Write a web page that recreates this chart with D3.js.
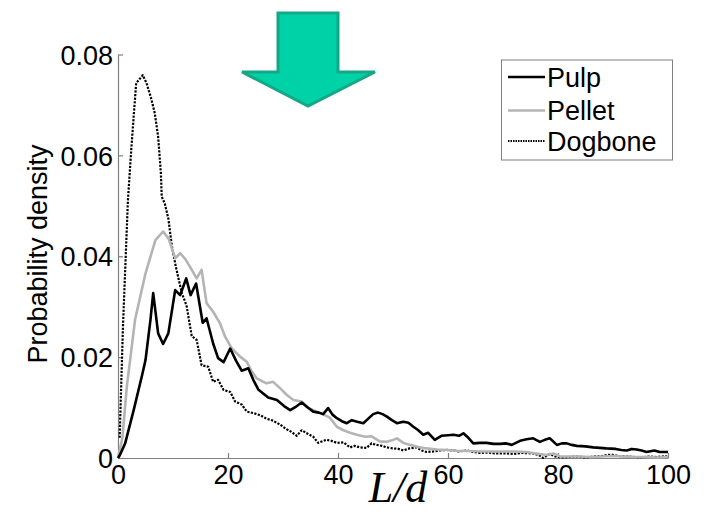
<!DOCTYPE html>
<html>
<head>
<meta charset="utf-8">
<script src="https://cdn.jsdelivr.net/npm/d3@7"></script>
<style>
  html, body { margin: 0; padding: 0; background: #ffffff; }
  svg { display: block; }
</style>
</head>
<body>
<svg id="chart" width="719" height="517"></svg>
<script>
// ---------- data ----------
const seriesNames = ["Pulp", "Pellet", "Dogbone"];
const xTicks = [0, 20, 40, 60, 80, 100];
const yTicks = [0, 0.02, 0.04, 0.06, 0.08];
const yTickLabels = ["0", "0.02", "0.04", "0.06", "0.08"];

const pulpL = [0,0.3,1.3,2.85,4.4,5,5.9,6.4,7.3,8.2,9.15,10.4,11.3,12.4,13.2,14.2,15.4,16.1,17.3,18.2,19.2,20.4,21.5,22.5,23.7,24.6,25.5,27.3,28.9,30.2,31.3,32.4,33.4,34.5,35.5,36.5,37.3,38.2,39,39.8,40.7,41.6,42.5,43.5,44.6,45.5,46.4,47.3,48.1,48.9,49.8,50.7,51.9,52.8,53.7,54.6,55.5,56.4,57.6,58.8,60,61,62,62.8,63.7,64.6,65.8,67,68.3,69.5,70.5,71.6,73.1,74.3,75.5,76.7,77.6,78.5,79.8,80.7,81.6,82.5,83.4,85,86.4,87.6,88.8,90.5,91.5,92.5,93.4,94.3,95.2,96.1,97.5,98.5,100];
const pulpV = [0,0.0005,0.0029,0.0095,0.0165,0.0194,0.0274,0.0327,0.0247,0.0226,0.0247,0.0333,0.0323,0.0356,0.0323,0.0346,0.0268,0.0277,0.0227,0.0198,0.019,0.0217,0.0192,0.0173,0.0178,0.0155,0.0136,0.012,0.0115,0.0103,0.0095,0.0102,0.011,0.01,0.0092,0.009,0.0087,0.0099,0.0086,0.0079,0.0073,0.0069,0.0075,0.0072,0.0069,0.0078,0.0087,0.009,0.0087,0.0082,0.0075,0.0069,0.0072,0.007,0.0062,0.0055,0.0046,0.005,0.0036,0.0044,0.0045,0.0046,0.0044,0.0049,0.004,0.0029,0.003,0.003,0.0028,0.0028,0.0029,0.0026,0.0034,0.0037,0.0039,0.0032,0.0036,0.0039,0.0026,0.0029,0.0029,0.0026,0.0024,0.0023,0.0021,0.002,0.0019,0.0018,0.0016,0.0015,0.0018,0.0017,0.0015,0.0012,0.0015,0.0012,0.0012];

const pelletL = [0,0.8,1.6,3.1,5,6.8,8.2,9.2,10.4,11.3,12.2,13.1,14.3,15.2,16.1,17.3,18.5,19.5,20.7,22.2,23.4,24.3,25.2,27,28.2,29.5,30.7,31.9,33.4,34.5,35.5,37.6,38.5,39.8,41,42.2,43.4,44.9,46.1,47.6,48.9,49.8,50.7,51.9,53.1,54.6,56.1,58,59.8,62,64,66,68,70,72,74.3,76,77.9,79.2,80.4,82,84,86,88,90,92,94,96,98,100];
const pelletV = [0,0.004,0.0141,0.0274,0.0366,0.0432,0.0449,0.0435,0.0396,0.0406,0.0395,0.0379,0.0356,0.0373,0.0307,0.029,0.0268,0.024,0.0217,0.0201,0.0191,0.0172,0.0158,0.0148,0.0151,0.0138,0.0125,0.0115,0.0112,0.01,0.0095,0.0085,0.008,0.0062,0.0055,0.005,0.0046,0.0042,0.0043,0.0033,0.0032,0.0035,0.0039,0.003,0.0026,0.0022,0.0019,0.0017,0.0016,0.0014,0.0014,0.0013,0.0013,0.0013,0.0013,0.0012,0.0009,0.0006,0.0009,0.0003,0.0003,0.0003,0.0002,0.0003,0.0004,0.0003,0.0002,0.0002,0.0001,0.0002];

const dogboneL = [0.3,0.9,1.8,2.4,3.3,4.5,5.2,6.1,6.7,7.3,7.8,7.95,8.5,9.15,9.8,10.5,11.6,12.2,12.5,13.4,14.3,15.2,16.4,17.3,18.2,19.2,20.4,21.3,22.5,23.4,24.6,25.8,27,28.2,29.5,30.5,31.5,32.5,33.4,34.5,35.5,36.4,37.9,38.8,39.8,41,42.2,43,44,45.2,46.1,47,48,48.9,50,51,51.9,53,54.3,55.2,56.1,57.5,58.5,59.8,61,62,63.4,64.5,65.8,67,68.5,70.7,72,73.5,75.5,76.5,77.3,78.5,79.5,80.4,82,83.5,85.2,86.5,88,89,90,91,92.5,94,94.9,96.5,98,99.8];
const dogboneV = [0.004,0.026,0.051,0.061,0.0743,0.0759,0.0743,0.071,0.0683,0.0637,0.0564,0.0518,0.0505,0.0475,0.042,0.038,0.0327,0.031,0.03,0.0242,0.0234,0.0184,0.0181,0.0151,0.0155,0.0135,0.0131,0.0112,0.0106,0.0092,0.0089,0.0085,0.0078,0.0074,0.0066,0.0058,0.0052,0.0044,0.0055,0.0048,0.0042,0.003,0.0036,0.0034,0.003,0.0031,0.0021,0.0024,0.0021,0.002,0.0029,0.0026,0.0024,0.0021,0.0019,0.0018,0.0015,0.0019,0.0021,0.0015,0.0012,0.0013,0.0015,0.0016,0.0015,0.0013,0.0015,0.0012,0.001,0.0011,0.0009,0.0009,0.0008,0.001,0.0009,0.0006,0.0,0.0008,0.0003,0.0001,0.0002,0.0003,0.0001,0.0003,0.0004,0.0006,0.0006,0.0004,0.0003,0.0002,0.0001,0.0003,0.0002,0.0004];

// ---------- layout ----------
const svg = d3.select("#chart");
const x = d3.scaleLinear().domain([0, 100]).range([118, 668]);
const y = d3.scaleLinear().domain([0, 0.08]).range([458, 54.5]);
const axisColor = "#7f7f7f";
const font = "'Liberation Sans', Arial, sans-serif";
const fs = "27px";

// arrow (decoration)
const ax = 308;
svg.append("polygon")
  .attr("points", [
    [ax - 30, 13], [ax + 30, 13], [ax + 30, 72], [ax + 67, 72],
    [ax, 106], [ax - 66, 72], [ax - 30, 72]
  ].map(p => p.join(",")).join(" "))
  .attr("fill", "#00d2a8")
  .attr("stroke", "#14a886")
  .attr("stroke-width", 3)
  .attr("stroke-linejoin", "miter");

// axes
const xAxis = d3.axisBottom(x).tickValues(xTicks).tickSizeInner(-5).tickSizeOuter(0).tickPadding(10)
  .tickFormat(d3.format("d"));
const yAxis = d3.axisLeft(y).tickValues(yTicks).tickSizeInner(-5).tickSizeOuter(0).tickPadding(5)
  .tickFormat((d, i) => yTickLabels[i]);

const gx = svg.append("g").attr("transform", "translate(0,458)").call(xAxis);
const gy = svg.append("g").attr("transform", "translate(118,0)").call(yAxis);
[gx, gy].forEach(g => {
  g.select(".domain").attr("stroke", axisColor).attr("stroke-width", 1.2);
  g.selectAll(".tick line").attr("stroke", axisColor).attr("stroke-width", 1.2);
  g.selectAll(".tick text").attr("fill", "#000").style("font-family", font).style("font-size", fs);
});
gy.selectAll(".tick text").attr("dy", "0.36em");
gx.selectAll(".tick text").attr("dy", "0.6em");

// lines
const line = d3.line().x(d => x(d[0])).y(d => y(d[1]));
const zip = (a, b) => a.map((v, i) => [v, b[i]]);

const styles = {
  Pulp:    { stroke: "#000000", width: 2.6, dash: null },
  Pellet:  { stroke: "#b4b4b4", width: 2.6, dash: null },
  Dogbone: { stroke: "#000000", width: 2.2, dash: "2.2,1.4" }
};
const seriesData = {
  Pulp: zip(pulpL, pulpV),
  Pellet: zip(pelletL, pelletV),
  Dogbone: zip(dogboneL, dogboneV)
};

["Dogbone", "Pellet", "Pulp"].forEach(name => {
  const s = styles[name];
  svg.append("path")
    .datum(seriesData[name])
    .attr("d", line)
    .attr("fill", "none")
    .attr("stroke", s.stroke)
    .attr("stroke-width", s.width)
    .attr("stroke-linejoin", "round")
    .attr("stroke-dasharray", s.dash);
});

// legend
const lg = svg.append("g");
lg.append("rect").attr("x", 501.5).attr("y", 60).attr("width", 171).attr("height", 100)
  .attr("fill", "#fff").attr("stroke", axisColor).attr("stroke-width", 1);
const legendY = [77, 110.5, 141];
seriesNames.forEach((name, i) => {
  const s = styles[name];
  lg.append("line").attr("x1", 508).attr("x2", 545).attr("y1", legendY[i]).attr("y2", legendY[i])
    .attr("stroke", s.stroke).attr("stroke-width", name === "Dogbone" ? 2 : 2.4)
    .attr("stroke-dasharray", name === "Dogbone" ? "1.5,1" : null);
  lg.append("text").attr("x", 547).attr("y", legendY[i]).attr("dy", "0.36em")
    .style("font-family", font).style("font-size", fs).text(name);
});

// axis labels
svg.append("text")
  .attr("transform", "translate(47,254) rotate(-90)")
  .attr("text-anchor", "middle")
  .style("font-family", font).style("font-size", fs)
  .text("Probability density");

svg.append("text")
  .attr("x", 398).attr("y", 502)
  .attr("text-anchor", "middle")
  .style("font-family", "'Liberation Serif', 'DejaVu Serif', serif")
  .style("font-style", "italic")
  .style("font-size", "44px")
  .text("L/d");
</script>
</body>
</html>
